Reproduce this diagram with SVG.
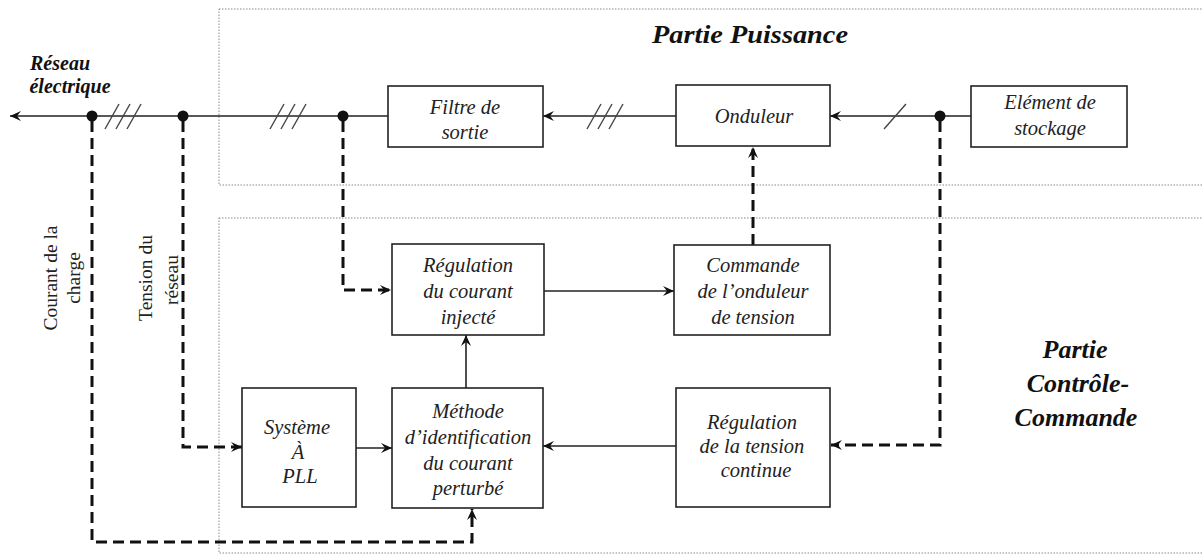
<svg xmlns="http://www.w3.org/2000/svg" width="1202" height="556" viewBox="0 0 1202 556">
<style>
.zone{fill:none;stroke:#888;stroke-width:1;stroke-dasharray:1.5 1.5}
.box rect{fill:#fff;stroke:#222;stroke-width:1.6}
.box text{font-family:"Liberation Serif","Times New Roman",serif;font-style:italic;font-size:20.5px;fill:#222;text-anchor:middle}
.title{font-family:"Liberation Serif","Times New Roman",serif;font-style:italic;font-weight:bold;font-size:26px;fill:#111;text-anchor:middle}
.lab{font-family:"Liberation Serif","Times New Roman",serif;font-size:19.5px;fill:#222;text-anchor:middle}
.sol{fill:none;stroke:#222;stroke-width:1.6}
.dash{fill:none;stroke:#111;stroke-width:3;stroke-dasharray:11 6}
.sl{stroke:#444;stroke-width:1.4}
</style>
<defs>
<marker id="ah" viewBox="0 0 12 12" refX="11" refY="6" markerWidth="12" markerHeight="12" markerUnits="userSpaceOnUse" orient="auto">
<path d="M0,1 L11,6 L0,11 L4,6 Z" fill="#111"/>
</marker>
</defs>
<rect class="zone" x="219" y="9" width="990" height="176"/>
<rect class="zone" x="219" y="218" width="990" height="335"/>
<text class="title" x="750" y="43" textLength="196" lengthAdjust="spacingAndGlyphs">Partie Puissance</text>
<text class="title" x="1075" y="358">Partie</text>
<text class="title" x="1078" y="392">Contrôle-</text>
<text class="title" x="1076" y="426">Commande</text>
<text class="title" x="60" y="70" style="font-size:20px">Réseau</text>
<text class="title" x="70" y="93" style="font-size:20px">électrique</text>
<text class="lab" transform="translate(57,278) rotate(-90)">Courant de la</text>
<text class="lab" transform="translate(80,278) rotate(-90)">charge</text>
<text class="lab" transform="translate(152,278) rotate(-90)">Tension du</text>
<text class="lab" transform="translate(178,280) rotate(-90)">réseau</text>
<g id="connectors">
<line class="sol" x1="388" y1="116" x2="10" y2="116" marker-end="url(#ah)"/>
<line class="sol" x1="676" y1="116" x2="543" y2="116" marker-end="url(#ah)"/>
<line class="sol" x1="971" y1="116" x2="830" y2="116" marker-end="url(#ah)"/>
<g class="sl">
<line x1="105" y1="129" x2="119" y2="104"/><line x1="116" y1="129" x2="130" y2="104"/><line x1="127" y1="129" x2="141" y2="104"/>
<line x1="270" y1="129" x2="284" y2="104"/><line x1="281" y1="129" x2="295" y2="104"/><line x1="292" y1="129" x2="306" y2="104"/>
<line x1="587" y1="129" x2="601" y2="104"/><line x1="598" y1="129" x2="612" y2="104"/><line x1="609" y1="129" x2="623" y2="104"/>
<line x1="884" y1="129" x2="906" y2="104"/>
</g>
<circle cx="92" cy="116" r="5.5" fill="#111"/>
<circle cx="183" cy="116" r="5.5" fill="#111"/>
<circle cx="343" cy="116" r="5.5" fill="#111"/>
<circle cx="940" cy="116" r="5.5" fill="#111"/>
<path class="dash" d="M92,121 V542 H472 V509" marker-end="url(#ah)"/>
<path class="dash" d="M183,121 V447 H242" marker-end="url(#ah)"/>
<path class="dash" d="M343,121 V290 H391" marker-end="url(#ah)"/>
<path class="dash" d="M940,121 V445 H831" marker-end="url(#ah)"/>
<path class="dash" d="M753,245 V147" marker-end="url(#ah)"/>
<line class="sol" x1="544" y1="291" x2="674" y2="291" marker-end="url(#ah)"/>
<line class="sol" x1="356" y1="448" x2="392" y2="448" marker-end="url(#ah)"/>
<line class="sol" x1="676" y1="446" x2="543" y2="446" marker-end="url(#ah)"/>
<line class="sol" x1="466" y1="388" x2="466" y2="335" marker-end="url(#ah)"/>
</g>
<g id="filtre" class="box"><rect x="388" y="86" width="155" height="61"/><text x="465" y="114">Filtre de</text><text x="465" y="139">sortie</text></g>
<g id="onduleur" class="box"><rect x="676" y="85" width="154" height="61"/><text x="754" y="123">Onduleur</text></g>
<g id="stockage" class="box"><rect x="971" y="86" width="156" height="61"/><text x="1050" y="109">Elément de</text><text x="1050" y="135">stockage</text></g>
<g id="regcourant" class="box"><rect x="392" y="244" width="152" height="91"/><text x="468" y="272">Régulation</text><text x="468" y="298">du courant</text><text x="468" y="324">injecté</text></g>
<g id="commande" class="box"><rect x="674" y="245" width="156" height="90"/><text x="753" y="272">Commande</text><text x="753" y="298">de l’onduleur</text><text x="753" y="324">de tension</text></g>
<g id="pll" class="box"><rect x="242" y="388" width="114" height="119"/><text x="297" y="434">Système</text><text x="298" y="459">À</text><text x="300" y="483">PLL</text></g>
<g id="methode" class="box"><rect x="392" y="388" width="151" height="120"/><text x="468" y="418">Méthode</text><text x="468" y="444">d’identification</text><text x="468" y="470">du courant</text><text x="468" y="495">perturbé</text></g>
<g id="regtension" class="box"><rect x="676" y="388" width="154" height="119"/><text x="752" y="429">Régulation</text><text x="752" y="453">de la tension</text><text x="756" y="477">continue</text></g>
</svg>
